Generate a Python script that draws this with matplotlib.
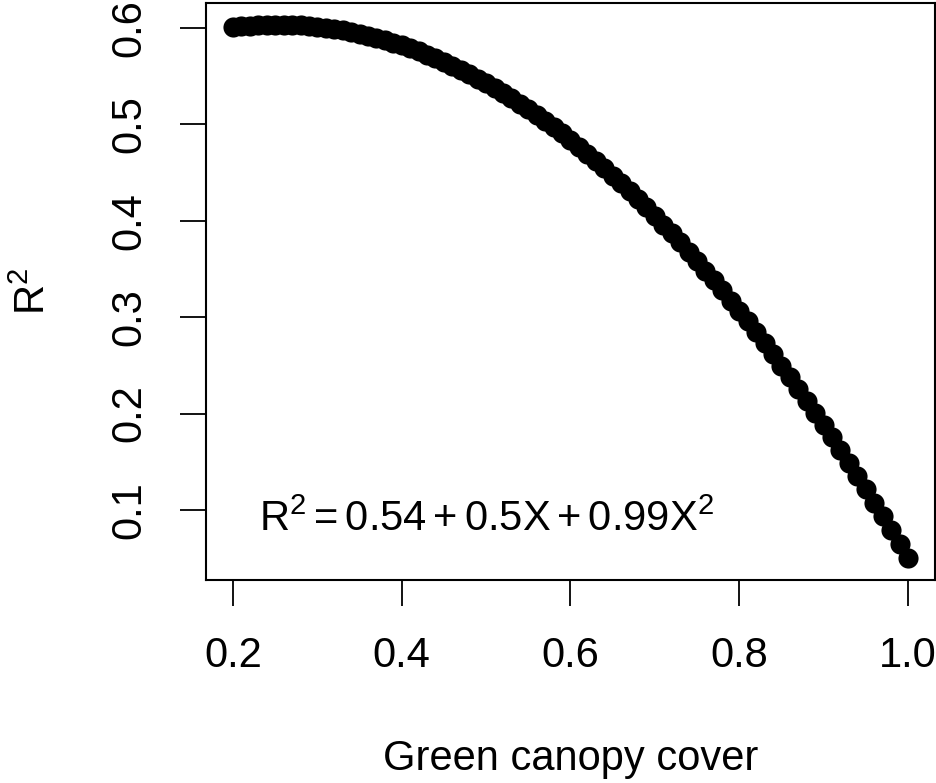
import matplotlib
matplotlib.use("Agg")
import matplotlib.pyplot as plt

plt.rcParams['font.family'] = ['Liberation Sans', 'DejaVu Sans']
plt.rcParams['mathtext.fontset'] = 'custom'
plt.rcParams['mathtext.rm'] = 'Liberation Sans'
plt.rcParams['mathtext.it'] = 'Liberation Sans'
plt.rcParams['mathtext.bf'] = 'Liberation Sans:bold'

# Data
canopy_cover = [0.20, 0.21, 0.22, 0.23, 0.24, 0.25, 0.26, 0.27, 0.28, 0.29,
                0.30, 0.31, 0.32, 0.33, 0.34, 0.35, 0.36, 0.37, 0.38, 0.39,
                0.40, 0.41, 0.42, 0.43, 0.44, 0.45, 0.46, 0.47, 0.48, 0.49,
                0.50, 0.51, 0.52, 0.53, 0.54, 0.55, 0.56, 0.57, 0.58, 0.59,
                0.60, 0.61, 0.62, 0.63, 0.64, 0.65, 0.66, 0.67, 0.68, 0.69,
                0.70, 0.71, 0.72, 0.73, 0.74, 0.75, 0.76, 0.77, 0.78, 0.79,
                0.80, 0.81, 0.82, 0.83, 0.84, 0.85, 0.86, 0.87, 0.88, 0.89,
                0.90, 0.91, 0.92, 0.93, 0.94, 0.95, 0.96, 0.97, 0.98, 0.99,
                1.00]
r_squared = [0.6004, 0.6013, 0.6021, 0.6026, 0.6030, 0.6031, 0.6031, 0.6028, 0.6024, 0.6017,
             0.6009, 0.5999, 0.5986, 0.5972, 0.5956, 0.5937, 0.5917, 0.5895, 0.5870, 0.5844,
             0.5816, 0.5786, 0.5754, 0.5719, 0.5683, 0.5645, 0.5605, 0.5563, 0.5519, 0.5473,
             0.5425, 0.5375, 0.5323, 0.5269, 0.5213, 0.5155, 0.5095, 0.5033, 0.4970, 0.4904,
             0.4836, 0.4766, 0.4694, 0.4621, 0.4545, 0.4467, 0.4388, 0.4306, 0.4222, 0.4137,
             0.4049, 0.3959, 0.3868, 0.3774, 0.3679, 0.3581, 0.3482, 0.3380, 0.3277, 0.3171,
             0.3064, 0.2955, 0.2843, 0.2730, 0.2615, 0.2497, 0.2378, 0.2257, 0.2133, 0.2008,
             0.1881, 0.1752, 0.1621, 0.1487, 0.1352, 0.1215, 0.1076, 0.0935, 0.0792, 0.0647,
             0.0500]
x_ticks = [0.2, 0.4, 0.6, 0.8, 1.0]
x_tick_labels = ["0.2", "0.4", "0.6", "0.8", "1.0"]
y_ticks = [0.1, 0.2, 0.3, 0.4, 0.5, 0.6]
y_tick_labels = ["0.1", "0.2", "0.3", "0.4", "0.5", "0.6"]

fig = plt.figure(figsize=(9.37, 7.83), dpi=100)
ax = fig.add_axes([206/937, 1 - 580/783, (935-206)/937, (580-3)/783])

ax.plot(canopy_cover, r_squared, linestyle='none', marker='o',
        markersize=14.5, color='black', markeredgewidth=0)

ax.set_xlim(0.168, 1.032)
ax.set_ylim(0.0274, 0.6256)

ax.set_xticks(x_ticks)
ax.set_xticklabels(x_tick_labels)
ax.set_yticks(y_ticks)
ax.set_yticklabels(y_tick_labels, rotation=90, va='center')

for s in ax.spines.values():
    s.set_linewidth(1.5)

ax.tick_params(axis='both', direction='out', length=18.5, width=1.3,
               labelsize=30, pad=22, color='black')

ax.set_xlabel("Green canopy cover", fontsize=30, labelpad=45)
ax.set_ylabel(r"$\mathrm{R}^2$", fontsize=30, labelpad=40)

ax.text(0.5, 0.09, r"$\mathrm{R}^2 = 0.54 + 0.5\mathrm{X} + 0.99\mathrm{X}^2$",
        fontsize=30, ha='center', va='center')

fig.savefig("out.png", dpi=100)
